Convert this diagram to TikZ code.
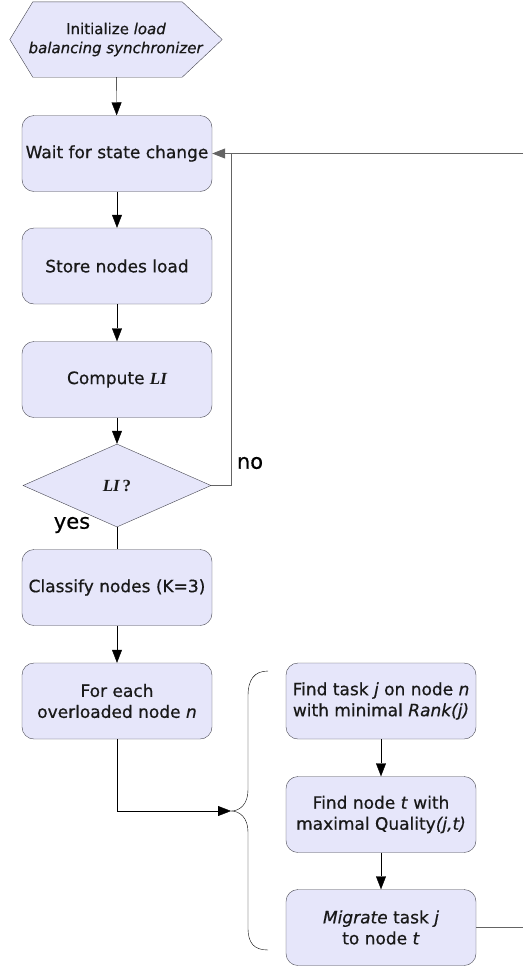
\documentclass[tikz,border=0pt]{standalone}
\usepackage{fontspec}
\setmainfont[FakeBold=0.6, ItalicFeatures={FakeBold=0.6}]{DejaVu Sans}
\newfontfamily\serif{Liberation Serif}
\usetikzlibrary{arrows.meta,shapes.geometric}

\definecolor{boxfill}{RGB}{230,230,250}
\definecolor{boxline}{RGB}{70,70,80}
\definecolor{loopgray}{RGB}{100,100,100}
\definecolor{textdark}{RGB}{25,25,25}

\tikzset{
  box/.style={draw=boxline, fill=boxfill, rounded corners=12pt, minimum width=190pt,
    minimum height=76pt, align=center, inner sep=1pt, text=textdark,
    font=\fontsize{17}{21}\selectfont},
  arr/.style={-{Triangle[length=13pt,width=10pt]}},
}

\begin{document}
\begin{tikzpicture}[x=1pt,y=-1pt]
\useasboundingbox (0,0) rectangle (523,967);

% Start: hexagon drawn round the text node
\node[minimum width=212pt, minimum height=75pt, inner sep=0pt] (init) at (116,39.5) {};
\filldraw[draw=boxline, fill=boxfill]
  (init.west) -- ([xshift=23pt]init.north west) -- ([xshift=-40pt]init.north east)
  -- (init.east) -- ([xshift=-40pt]init.south east) -- ([xshift=23pt]init.south west) -- cycle;
\node[align=center, text=textdark, font=\fontsize{15}{19}\selectfont] at (init)
  {Initialize \textit{load}\\ \textit{balancing synchronizer}};

% Left column
\node[box] (wait)     at (117,153.5) {Wait for state change};
\node[box] (store)    at (117,266)   {Store nodes load};
\node[box] (compute)  at (117,379.5) {Compute {\serif\itshape\bfseries LI}};
\node[draw=boxline, fill=boxfill, shape=diamond, minimum width=188pt, minimum height=83pt,
  inner sep=0pt, text=textdark, font=\fontsize{17}{20}\selectfont] (test) at (117,485.5)
  {{\serif\itshape\bfseries LI}\,{\serif\bfseries ?}};
\node[box] (classify) at (117,587.5) {Classify nodes (K=3)};
\node[box] (foreach)  at (117,701)   {For each\\ overloaded node \textit{n}};

% Right column
\node[box] (findtask) at (381,701)   {Find task \textit{j} on node \textit{n}\\ with minimal \textit{Rank(j)}};
\node[box] (findnode) at (381,814.5) {Find node \textit{t} with\\ maximal Quality\textit{(j,t)}};
\node[box] (migrate)  at (381,927.5) {\textit{Migrate} task \textit{j}\\ to node \textit{t}};

% Labels
\node[font=\fontsize{21}{24}\selectfont] (nolabel)  at (250,463) {no};
\node[font=\fontsize{21}{24}\selectfont] (yeslabel) at (72,525)  {yes};

% Loop ends at the right border
\coordinate (loopin)  at (523,153.5);
\coordinate (loopout) at (523,927.5);
\coordinate (tip)     at (231,811);

% Connectors
\draw[arr] (init) -- (wait);
\draw[arr] (wait) -- (store);
\draw[arr] (store) -- (compute);
\draw[arr] (compute) -- (test);
\draw (test) -- (classify);
\draw[arr] (classify) -- (foreach);
\draw[arr] (foreach.south) |- (tip);
\draw[arr] (findtask) -- (findnode);
\draw[arr] (findnode) -- (migrate);

\draw[loopgray, thick] (test.east) -| ([xshift=19pt]wait.east);
\draw[arr, loopgray, thick] (loopin) -- (wait.east);
\draw[loopgray, thick] (migrate.east) -- (loopout);

% Brace
\draw (268,671) .. controls (254,671) and (248,680) .. (248,696) -- (248,790)
  .. controls (248,804) and (240,811) .. (tip)
  .. controls (240,811) and (248,818) .. (248,832) -- (248,928)
  .. controls (248,943) and (254,950) .. (268,950);

\end{tikzpicture}
\end{document}
